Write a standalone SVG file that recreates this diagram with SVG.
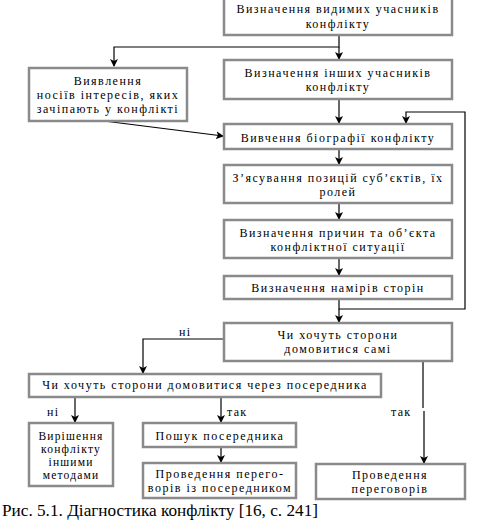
<svg xmlns="http://www.w3.org/2000/svg" width="478" height="522" viewBox="0 0 478 522">
<style>
.box{fill:#fff;stroke:#8a8a8a;stroke-width:2.5}
.t{font-family:"Liberation Serif","DejaVu Serif","Times New Roman",serif;font-size:12px;letter-spacing:1.5px;text-anchor:middle;fill:#000}
.s{font-size:11.5px;letter-spacing:1.2px}
.l{font-family:"Liberation Serif","DejaVu Serif","Times New Roman",serif;font-size:12px;letter-spacing:1.3px;fill:#000}
.c{fill:none;stroke:#000;stroke-width:1.2}
.cap{font-family:"Liberation Serif","DejaVu Serif","Times New Roman",serif;font-size:16px;fill:#000}
</style>
<defs>
<marker id="a" markerWidth="8" markerHeight="8" refX="7" refY="4" orient="auto" markerUnits="userSpaceOnUse">
<path d="M0,0 L8,4 L0,8 L2,4 Z" fill="#000"/>
</marker>
</defs>
<rect width="478" height="522" fill="#fff"/>
<g id="connectors">
<path class="c" d="M339,36 V47 H114 V66" marker-end="url(#a)"/>
<path class="c" d="M339,47 V59" marker-end="url(#a)"/>
<path class="c" d="M339,100 V123" marker-end="url(#a)"/>
<path class="c" d="M104,121 L223,136" marker-end="url(#a)"/>
<path class="c" d="M339,150 V164" marker-end="url(#a)"/>
<path class="c" d="M339,204 V219" marker-end="url(#a)"/>
<path class="c" d="M339,259 V275" marker-end="url(#a)"/>
<path class="c" d="M339,300 V309 H465 V112 H406 V123" marker-end="url(#a)"/>
<path class="c" d="M339,309 V322" marker-end="url(#a)"/>
<path class="c" d="M224,339 H143 V373" marker-end="url(#a)"/>
<path class="c" d="M75,398 V422" marker-end="url(#a)"/>
<path class="c" d="M221,398 V422" marker-end="url(#a)"/>
<path class="c" d="M221,448 V462" marker-end="url(#a)"/>
<path class="c" d="M423,362 V408"/>
<path class="c" d="M424,411 V463" marker-end="url(#a)"/>
</g>
<g id="n1"><rect class="box" x="224" y="-2" width="228" height="37"/><text class="t" x="338" y="13">Визначення видимих учасників</text><text class="t" x="338" y="28">конфлікту</text></g>
<g id="n2"><rect class="box" x="29" y="68" width="158" height="53"/><text class="t" x="108" y="85">Виявлення</text><text class="t" x="108" y="99">носіїв інтересів, яких</text><text class="t" x="108" y="113">зачіпають у конфлікті</text></g>
<g id="n3"><rect class="box" x="224" y="60" width="228" height="39"/><text class="t" x="338" y="77">Визначення інших учасників</text><text class="t" x="338" y="91">конфлікту</text></g>
<g id="n4"><rect class="box" x="224" y="124" width="228" height="25"/><text class="t" x="338" y="142">Вивчення біографії конфлікту</text></g>
<g id="n5"><rect class="box" x="224" y="165" width="228" height="38"/><text class="t" x="338" y="182">З’ясування позицій суб’єктів, їх</text><text class="t" x="338" y="196">ролей</text></g>
<g id="n6"><rect class="box" x="224" y="220" width="228" height="38"/><text class="t" x="338" y="237">Визначення причин та об’єкта</text><text class="t" x="338" y="251">конфліктної ситуації</text></g>
<g id="n7"><rect class="box" x="224" y="276" width="228" height="23"/><text class="t" x="338" y="292">Визначення намірів сторін</text></g>
<g id="n8"><rect class="box" x="224" y="323" width="228" height="38"/><text class="t" x="338" y="339">Чи хочуть сторони</text><text class="t" x="338" y="353">домовитися самі</text></g>
<g id="n9"><rect class="box" x="29" y="374" width="352" height="23"/><text class="t" x="205" y="389">Чи хочуть сторони домовитися через посередника</text></g>
<g id="n10"><rect class="box" x="29" y="423" width="84" height="63"/><text class="t s" x="71" y="440">Вирішення</text><text class="t s" x="71" y="453">конфлікту</text><text class="t s" x="71" y="466">іншими</text><text class="t s" x="71" y="479">методами</text></g>
<g id="n11"><rect class="box" x="143" y="423" width="153" height="24"/><text class="t" x="220" y="440">Пошук посередника</text></g>
<g id="n12"><rect class="box" x="143" y="463" width="153" height="35"/><text class="t" x="220" y="478">Проведення перего-</text><text class="t" x="220" y="492">ворів із посередником</text></g>
<g id="n13"><rect class="box" x="316" y="464" width="149" height="35"/><text class="t" x="390" y="479">Проведення</text><text class="t" x="390" y="493">переговорів</text></g>
<g id="labels">
<text class="l" x="179" y="336">ні</text>
<text class="l" x="47" y="416">ні</text>
<text class="l" x="227" y="416">так</text>
<text class="l" x="391" y="416">так</text>
</g>
<text class="cap" x="2" y="516" textLength="316" lengthAdjust="spacingAndGlyphs">Рис. 5.1. Діагностика конфлікту [16, с. 241]</text>
</svg>
